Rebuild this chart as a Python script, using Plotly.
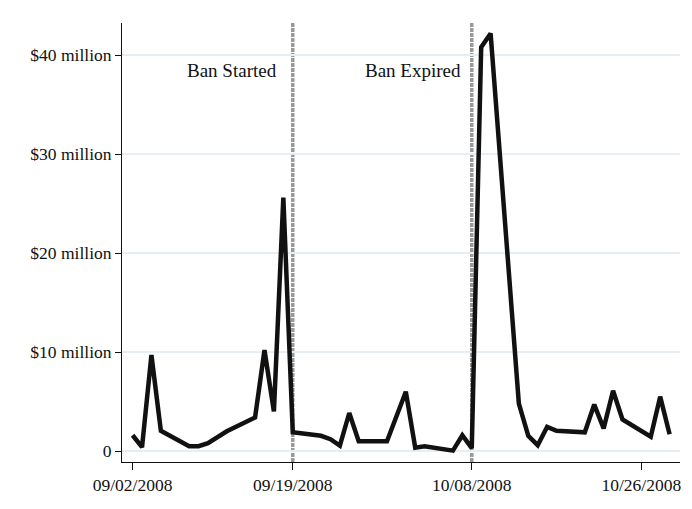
import plotly.graph_objects as go

dates = [
    "2008-09-02", "2008-09-03", "2008-09-04", "2008-09-05",
    "2008-09-08", "2008-09-09", "2008-09-10", "2008-09-11", "2008-09-12",
    "2008-09-15", "2008-09-16", "2008-09-17", "2008-09-18", "2008-09-19",
    "2008-09-22", "2008-09-23", "2008-09-24", "2008-09-25", "2008-09-26",
    "2008-09-29", "2008-09-30", "2008-10-01", "2008-10-02", "2008-10-03",
    "2008-10-06", "2008-10-07", "2008-10-08", "2008-10-09", "2008-10-10",
    "2008-10-13", "2008-10-14", "2008-10-15", "2008-10-16", "2008-10-17",
    "2008-10-20", "2008-10-21", "2008-10-22", "2008-10-23", "2008-10-24",
    "2008-10-27", "2008-10-28", "2008-10-29",
]
values_millions = [
    1.6, 0.4, 9.7, 2.05,
    0.5, 0.5, 0.8, 1.45, 2.0,
    3.4, 10.2, 4.0, 25.6, 1.9,
    1.55, 1.2, 0.55, 3.85, 1.0,
    1.0, 3.5, 6.0, 0.35, 0.5,
    0.05, 1.6, 0.3, 40.8, 42.2,
    4.8, 1.55, 0.6, 2.45, 2.05,
    1.9, 4.7, 2.3, 6.1, 3.2,
    1.45, 5.5, 1.7,
]

x_tick_vals = ["2008-09-02", "2008-09-19", "2008-10-08", "2008-10-26"]
x_tick_text = ["09/02/2008", "09/19/2008", "10/08/2008", "10/26/2008"]
y_tick_vals = [0, 10, 20, 30, 40]
y_tick_text = ["0", "$10 million", "$20 million", "$30 million", "$40 million"]

events = ["2008-09-19", "2008-10-08"]
event_labels = ["Ban Started", "Ban Expired"]
event_shift = [-14, -9]

FONT = "Liberation Serif"

fig = go.Figure()
fig.add_trace(go.Scatter(
    x=dates, y=values_millions, mode="lines",
    line=dict(color="#111111", width=4.5),
    showlegend=False, hoverinfo="skip",
))

for d in events:
    fig.add_shape(
        type="line", xref="x", yref="paper", x0=d, x1=d, y0=0, y1=1,
        line=dict(color="#999999", width=3.5, dash="4px,1px"),
        layer="between",
    )

for d, lab, sh in zip(events, event_labels, event_shift):
    fig.add_annotation(
        x=d, y=38.5, xref="x", yref="y", text=lab, showarrow=False,
        xanchor="right", yanchor="middle", xshift=sh,
        font=dict(family=FONT, size=19, color="#111111"),
    )

# page body has an 8px default margin; compensate so the plot area lands
# where the reference has it
fig.update_layout(
    width=684, height=501,
    margin=dict(l=114, r=12, t=15, b=47),
    paper_bgcolor="white", plot_bgcolor="white",
    font=dict(family=FONT, size=17.5, color="#111111"),
    showlegend=False,
)
fig.update_xaxes(
    type="date",
    range=["2008-08-31 21:00", "2008-10-30 02:30"],
    tickvals=x_tick_vals, ticktext=x_tick_text,
    ticks="outside", ticklen=7, tickwidth=1, tickcolor="#111111",
    showline=True, linecolor="#111111", linewidth=1,
    showgrid=False, zeroline=False,
    tickfont=dict(family=FONT, size=17.5, color="#111111"),
)
fig.update_yaxes(
    range=[-1.1, 43.25],
    tickvals=y_tick_vals, ticktext=y_tick_text,
    ticks="outside", ticklen=6, tickwidth=1, tickcolor="#111111",
    showline=True, linecolor="#111111", linewidth=1,
    showgrid=True, gridcolor="#e6eef3", gridwidth=1.5,
    zeroline=False,
    tickfont=dict(family=FONT, size=17.5, color="#111111"),
)

fig.write_html("out.html")
